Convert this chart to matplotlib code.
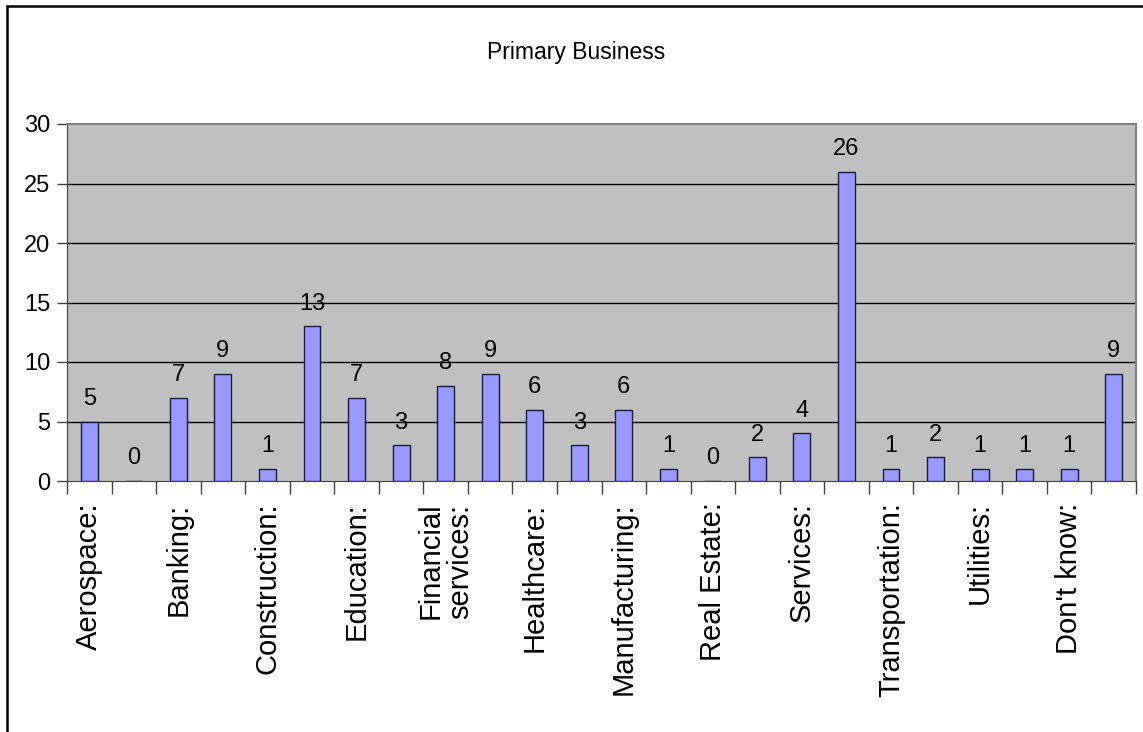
import matplotlib
matplotlib.use("Agg")
import matplotlib.pyplot as plt
from matplotlib.patches import Rectangle
import numpy as np

plt.rcParams['font.family'] = ['Liberation Sans', 'DejaVu Sans']

# Response counts per business type (24 categories, every other one labelled)
values = [5, 0, 7, 9, 1, 13, 7, 3, 8, 9, 6, 3, 6, 1, 0, 2, 4, 26, 1, 2, 1, 1, 1, 9]
shown_labels = ["Aerospace:", "Banking:", "Construction:", "Education:",
                "Financial\nservices:", "Healthcare:", "Manufacturing:",
                "Real Estate:", "Services:", "Transportation:", "Utilities:",
                "Don't know:"]
y_ticks = [0, 5, 10, 15, 20, 25, 30]
title = "Primary Business"

W, H = 1143, 732
fig = plt.figure(figsize=(W / 100, H / 100), dpi=100)
fig.patch.set_facecolor("white")

# chart frame (open at right and bottom)
fig.add_artist(Rectangle((7 / W, -0.1), 1.2, 1 - 6 / H + 0.1,
                         transform=fig.transFigure, fill=False,
                         edgecolor="black", lw=1.8))

ax = fig.add_axes([67 / W, 1 - 481 / H, (1136 - 67) / W, (481 - 124) / H])
ax.set_facecolor("#C0C0C0")

n = len(values)
x = np.arange(n)
bars = ax.bar(x, values, width=0.38, color="#9999FF", edgecolor="#1a1a40",
              linewidth=1.0, zorder=3)

for xi, v in zip(x, values):
    ax.annotate(str(v), (xi, v), xytext=(0, 12), textcoords="offset points",
                ha="center", va="baseline", fontsize=17, zorder=4)

ax.set_xlim(-0.5, n - 0.5)
ax.set_ylim(0, 30)
ax.set_yticks(y_ticks)
ax.set_yticklabels([str(t) for t in y_ticks], fontsize=17)
ax.tick_params(axis="y", length=7, width=1, color="#404040", pad=5)

for t in y_ticks[1:-1]:
    ax.axhline(t, color="black", lw=1, zorder=1)

# category boundary ticks below the axis
ax.set_xticks(np.arange(-0.5, n, 1.0))
ax.set_xticklabels([])
ax.tick_params(axis="x", length=9, width=1, color="#404040", direction="out")

for i, lab in enumerate(shown_labels):
    ax.text(2 * i, -0.06, lab, transform=ax.get_xaxis_transform(),
            rotation=90, ha="center", va="top", fontsize=21,
            multialignment="left", linespacing=1.05)

for side in ("top", "right"):
    ax.spines[side].set_color("#808080")
    ax.spines[side].set_linewidth(1.5)
ax.spines["left"].set_color("#404040")
ax.spines["bottom"].set_color("#404040")

fig.text(576 / W, 1 - 52 / H, title, ha="center", va="center", fontsize=16.5)

fig.savefig("out.png", dpi=100)
